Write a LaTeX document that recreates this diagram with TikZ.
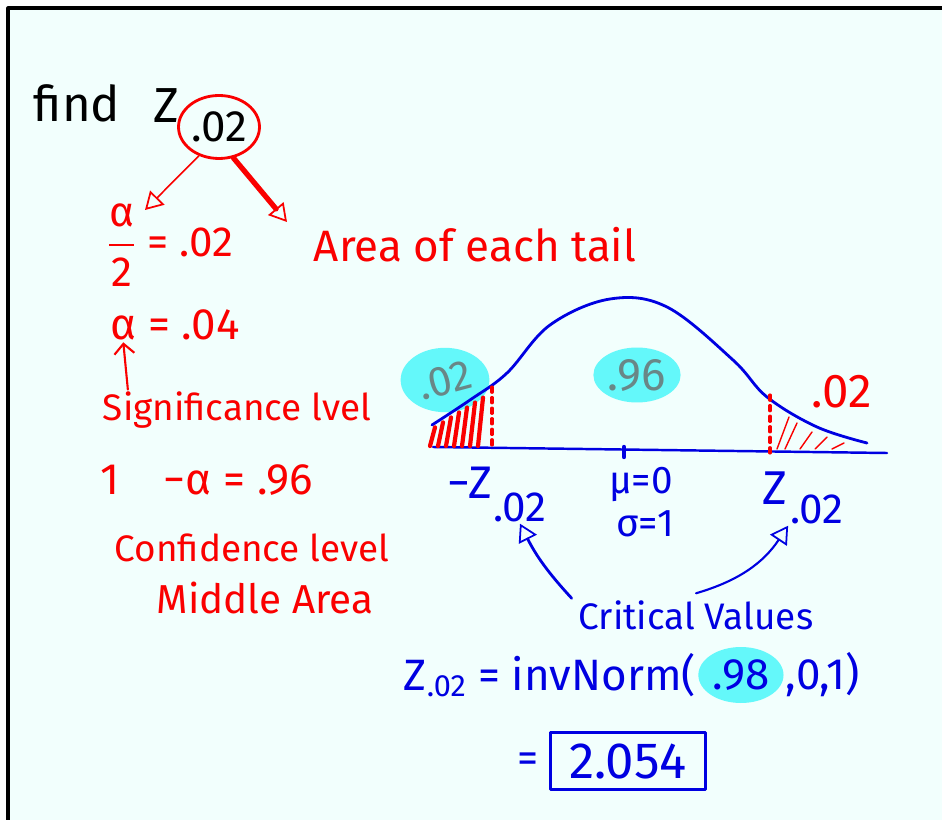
\documentclass[tikz,border=0pt]{standalone}
\usepackage{amsmath}
\usepackage{fontspec}
\setmainfont{Fira Sans}
\usetikzlibrary{arrows.meta,shapes.geometric,positioning}
\definecolor{inkred}{RGB}{250,0,0}
\definecolor{inkblue}{RGB}{0,0,225}
\definecolor{blobcyan}{RGB}{100,248,250}
\definecolor{blobgrey}{RGB}{105,135,135}
\definecolor{paper}{RGB}{242,255,253}

\begin{document}
\begin{tikzpicture}[x=0.02cm,y=-0.02cm,line cap=round,line join=round,
    hand/.style={inner sep=1pt,font=\fontsize{#1}{#1}\selectfont},
    hand/.default=21,
    redhand/.style={hand=#1,text=inkred},
    redhand/.default=21,
    bluehand/.style={hand=#1,text=inkblue},
    bluehand/.default=21,
    blob/.style={ellipse,fill=blobcyan,inner sep=0pt},
    opentip/.style={-{Triangle[open,length=3.5mm,width=4mm,line width=1pt]}}]
                        % Paper
                        \useasboundingbox (0,0) rectangle (942,820);
                        \fill[white] (0,0) rectangle (942,820);
                        \fill[paper] (8,8) rectangle (942,820);
                        \draw[line width=1.8pt] (942,8) -- (8,8) -- (8,820);

                        % Nodes
                        \node[hand=28] (find) at (77,103) {find};
                        \node[hand=28] (Z) at (166,106) {Z};
                        \node[ellipse, draw=inkred, line width=1.6pt, hand=25, inner sep=0pt,
                              minimum width=1.62cm, minimum height=1.26cm] (zsub) at (219,127) {.02};
                        \node[redhand=24] (half) at (170,245) {$\dfrac{\text{α}}{\text{2}}$ = .02};
                        \node[redhand=25] (tail) at (475,245) {Area of each tail};
                        \node[redhand=25] (alpha) at (175,325) {α = .04};
                        \node[redhand] (signif) at (237,410) {Significance lvel};
                        \node[redhand=25] (conf) at (207,480) {1\quad −α = .96};
                        \node[redhand] (confid) at (252,548) {Confidence level};
                        \node[redhand=23] (middle) at (265,598) {Middle Area};

                        \node[blob, hand=24, text=blobgrey, minimum width=1.32cm, minimum height=1.1cm]
                              (lblob) at (445,380) {\rotatebox{15}{.02}};
                        \node[blob, hand=26, text=blobgrey, minimum width=1.3cm, minimum height=1.1cm]
                              (mblob) at (637,375) {.96};
                        \node[redhand=27] (rval) at (842,392) {.02};

                        \node[bluehand=26] (negz) at (470,483) {−Z};
                        \node[bluehand=24] (negzsub) at (520,507) {.02};
                        \node[bluehand=22] (mu) at (641,484) {μ=0};
                        \node[bluehand=22] (sigma) at (645,524) {σ=1};
                        \node[bluehand=27] (posz) at (775,488) {Z};
                        \node[bluehand=24] (poszsub) at (817,509) {.02};
                        \node[bluehand] (crit) at (696,615) {Critical Values};

                        \node[bluehand=25, anchor=east] (zform) at (698,675) {Z\textsubscript{.02} = invNorm(};
                        \node[blob, bluehand=25, minimum width=1.45cm, minimum height=1.12cm, right=0pt of zform] (q98) {.98};
                        \node[bluehand=25, right=0pt of q98] (args) {,0,1)};
                        \node[bluehand=24] (eq) at (528,763) {=};
                        \node[bluehand=29, draw=inkblue, line width=1.6pt, minimum width=3.1cm,
                              minimum height=1.14cm] (result) at (628,761) {2.054};

                        \coordinate (halftip) at (145,210);
                        \coordinate (tailtip) at (287,222);

                        % Curve
                        \draw[inkblue, line width=1.6pt] plot[smooth, tension=0.6] coordinates
                              {(432,425) (470,400) (507,373) (550,325) (610,299) (667,307)
                               (733,360) (767,397) (817,427) (867,443)};
                        \draw[inkblue, line width=1.4pt] (433,447) -- (887,453);
                        \draw[inkblue, line width=2.5pt] (624,447) -- (624,457);

                        % Tails
                        \foreach \x in {433,441,...,486}
                            \draw[inkred, line width=2.4pt] (\x-3,446) -- (\x+2,{428-(\x-432)*0.62});
                        \draw[inkred, line width=1.8pt, dashed] (492,387) -- (492,450);
                        \draw[inkred, line width=1.8pt, dashed] (770,395) -- (770,455);
                        \foreach \x/\t in {777/417,785/423,800/432,815/437,832/443}
                            \draw[inkred, line width=0.8pt] (\x,449) -- (\x+12,\t);

                        % Edges
                        \draw[inkred, line width=0.9pt, opentip] (zsub.235) -- (halftip);
                        \draw[inkred, line width=3pt, opentip] (zsub.295) -- (tailtip);
                        \draw[inkred, line width=1.2pt, -{Straight Barb[length=2mm]}]
                              ([xshift=0.54cm]signif.north west) -- ([xshift=0.3cm]alpha.south west);
                        \draw[inkblue, line width=1.6pt, opentip] ([xshift=-0.1cm]crit.north west) to[bend left=8] (negzsub.south);
                        \draw[inkblue, line width=1.2pt, opentip] ([yshift=0.1cm]crit.north) to[bend right=20] (poszsub.south west);
                    \end{tikzpicture}
\end{document}
